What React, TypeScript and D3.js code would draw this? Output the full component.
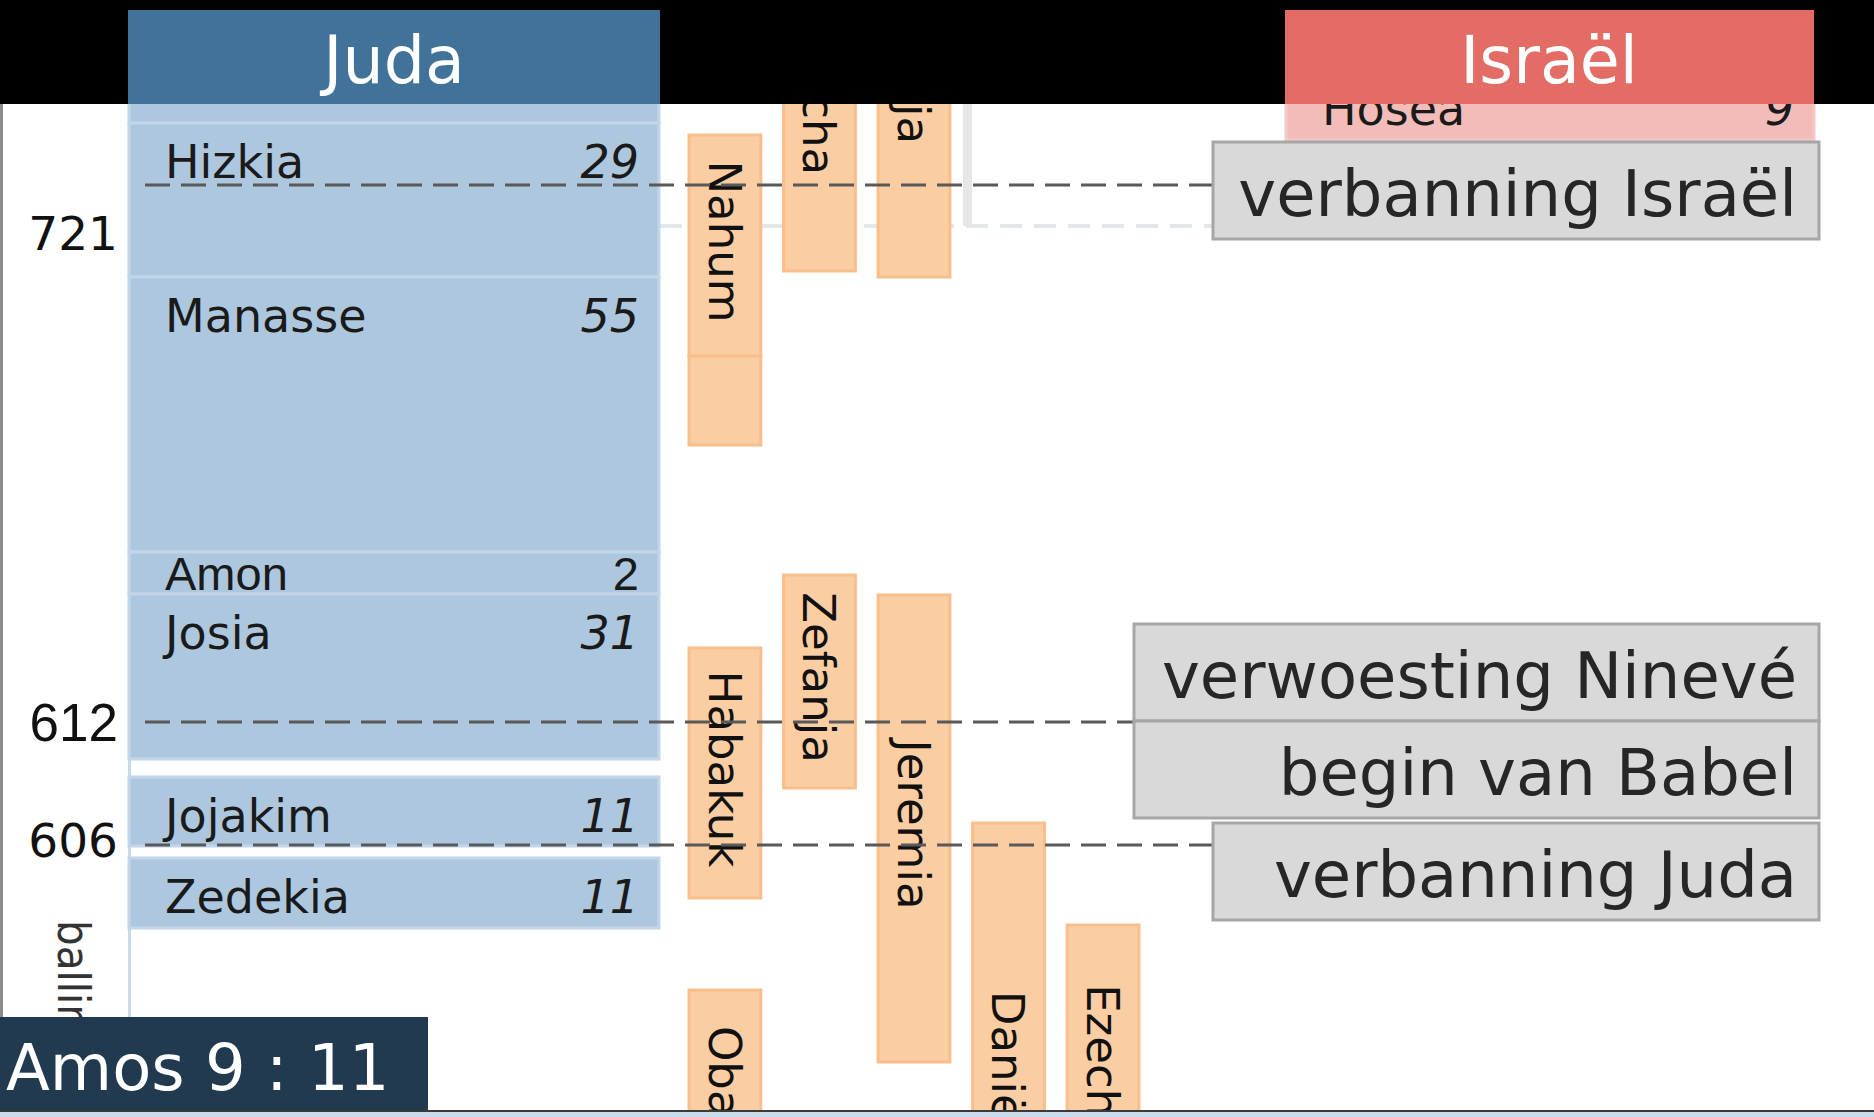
import React from 'react';
import * as d3 from 'd3';

const W = 1874;
const H = 1117;

const judaKings = ['Achaz', 'Hizkia', 'Manasse', 'Amon', 'Josia', 'Jojakim', 'Zedekia'];
const judaYears = ['16', '29', '55', '2', '31', '11', '11'];
const judaFrom = [-6, 1.9, 17.3, 44.8, 49.0, 67.3, 75.4];
const judaTo = [1.9, 17.3, 44.8, 49.0, 65.5, 74.2, 82.4];

// koningen van Israël
const israelKings = ['Hosea'];
const israelYears = ['9'];
const israelFrom = [-3.4];
const israelTo = [3.6];

// profeten
const prophets = ['Nahum', '', 'Micha', 'Jesaja', 'Habakuk', 'Zefanja', 'Jeremia', 'Daniël', 'Ezechiël', 'Obadja'];
const prophetCol = [0, 0, 1, 2, 0, 1, 2, 3, 4, 0];
const prophetFrom = [3.1, 25.2, -14.9, -21.7, 54.4, 47.1, 49.1, 71.9, 82.1, 88.6];
const prophetTo = [25.2, 34.1, 16.7, 17.3, 79.4, 68.4, 95.8, 120.6, 113.3, 112.6];

// gebeurtenissen
const eventYears = ['721', '612', '606'];
const eventAt = [8.1, 61.8, 74.1];
const eventLabels = [['verbanning Israël'], ['verwoesting Ninevé', 'begin van Babel'], ['verbanning Juda']];

// opmaak van de kaders
const boxLeft = [1213, 1134, 1213];
const boxTopOffset = [-43, -98, -22];
const yearLabelShift = [65, 19, 12];

const SANS = 'DejaVu Sans, Verdana, sans-serif';
const ARIAL = 'Liberation Sans, Arial, sans-serif';

const App = () => {
  const y = d3.scaleLinear().domain([0, 100.7]).range([104, 1111]);
  const px = d3.scaleBand<number>().domain([0, 1, 2, 3, 4]).range([689, 1139]).paddingInner(0.24);

  const judaX0 = 129, judaX1 = 659;
  const israelX0 = 1286, israelX1 = 1814;
  const boxRight = 1819;
  const rowH = 97;

  const reignBlock = (name: string, yrs: string, from: number, to: number, x0: number, x1: number, fill: string, stroke: string, key: string) => {
    const top = y(from);
    const h = y(to) - top;
    const base = top + Math.min(55, h - 4);
    const plain = name === 'Amon';
    return (
      <g key={key}>
        <rect x={x0} y={top} width={x1 - x0} height={h} fill={fill} stroke={stroke} strokeWidth={3} />
        <text x={x0 + 36} y={base} fontSize={plain ? 47 : 46}
          fontFamily={plain ? ARIAL : SANS} fill="#1a1a1a">{name}</text>
        <text x={x1 - 20} y={base} textAnchor="end" fontSize={plain ? 47 : 46}
          fontStyle={plain ? 'normal' : 'italic'}
          fontFamily={plain ? ARIAL : SANS} fill="#1a1a1a">{yrs}</text>
      </g>
    );
  };

  return (
    <svg width={W} height={H} style={{ position: 'fixed', left: 0, top: 0, background: '#fff' }}>
      <rect x={0} y={0} width={W} height={H} fill="#fff" />

      {/* linker as en kolomrand */}
      <line x1={1.5} x2={1.5} y1={104} y2={1111} stroke="#8c8c8c" strokeWidth={3} />
      <line x1={129.5} x2={129.5} y1={104} y2={1111} stroke="#c9dbeb" strokeWidth={3} />

      {/* resten van de Israël-tijdbalk */}
      <line x1={660} x2={1213} y1={226} y2={226} stroke="#e4e7ea" strokeWidth={4} strokeDasharray="22 12" />
      <rect x={963} y={104} width={9} height={122} fill="#e6e6e6" />

      {/* Juda */}
      {judaKings.map((k, i) => reignBlock(k, judaYears[i], judaFrom[i], judaTo[i], judaX0, judaX1, '#adc8de', '#c2d6e9', 'j' + i))}

      {/* Israël */}
      {israelKings.map((k, i) => reignBlock(k, israelYears[i], israelFrom[i], israelTo[i], israelX0, israelX1, '#f2bdb8', '#f4c9c5', 'i' + i))}

      {/* profeten */}
      {prophets.map((p, i) => {
        const x0 = px(prophetCol[i]) as number;
        const bw = px.bandwidth();
        const top = y(prophetFrom[i]);
        const bot = y(prophetTo[i]);
        return (
          <g key={'p' + i}>
            <rect x={x0} y={top} width={bw} height={bot - top} fill="#fbcda2" stroke="#f8bf8c" strokeWidth={3} />
            {p && (
              <text transform={`translate(${x0 + bw / 2},${(top + bot) / 2 - 4}) rotate(90)`}
                textAnchor="middle" dy="0.36em" fontSize={45} fontFamily={SANS} fill="#111">{p}</text>
            )}
          </g>
        );
      })}

      {/* gebeurtenissen */}
      {eventYears.map((yr, i) => {
        const ly = y(eventAt[i]);
        const top = ly + boxTopOffset[i];
        return (
          <g key={'e' + i}>
            <line x1={145} x2={boxLeft[i]} y1={ly} y2={ly} stroke="#595959" strokeWidth={3} strokeDasharray="25 11" />
            {eventLabels[i].map((lab, j) => (
              <g key={j}>
                <rect x={boxLeft[i]} y={top + j * rowH} width={boxRight - boxLeft[i]} height={rowH}
                  fill="#d9d9d9" stroke="#a6a6a6" strokeWidth={3} />
                <text x={boxRight - 22} y={top + j * rowH + 74} textAnchor="end" fontSize={64}
                  fontFamily={SANS} fill="#262626">{lab}</text>
              </g>
            ))}
            <text x={118} y={ly + yearLabelShift[i]} textAnchor="end"
              fontSize={yr === '612' ? 53 : 47}
              fontFamily={yr === '612' ? ARIAL : SANS} fill="#111">{yr}</text>
          </g>
        );
      })}

      {/* kopbalk */}
      <rect x={0} y={0} width={W} height={104} fill="#000" />
      <rect x={128} y={10} width={532} height={94} fill="#41739a" />
      <text x={394} y={83} textAnchor="middle" fontSize={65} fontFamily={SANS} fill="#fff">Juda</text>
      <rect x={1285} y={10} width={529} height={94} fill="#e36d64" />
      <text x={1549} y={83} textAnchor="middle" fontSize={65} fontFamily={SANS} fill="#fff">Israël</text>

      {/* ballingschap */}
      <text transform="translate(58,920) rotate(90)" fontSize={45}
        fontFamily="DejaVu Sans Condensed, DejaVu Sans, sans-serif" fill="#333">ballingschap</text>

      {/* Amos */}
      <rect x={0} y={1017} width={428} height={94} fill="#213a50" />
      <text x={6} y={1090} fontSize={64} fontFamily={SANS} fill="#fff">Amos 9 : 11</text>

      {/* onderrand */}
      <line x1={0} x2={W} y1={1111} y2={1111} stroke="#3a3a3a" strokeWidth={2} />
      <rect x={0} y={1112} width={W} height={5} fill="#c8dcec" />
    </svg>
  );
};

export default App;
